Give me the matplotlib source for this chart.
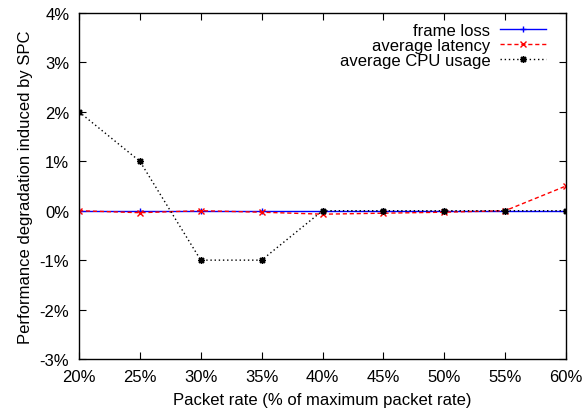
import matplotlib.pyplot as plt

plt.rcParams['font.family'] = ['Liberation Sans', 'DejaVu Sans']

rates = [20, 25, 30, 35, 40, 45, 50, 55, 60]
frame_loss = [0, 0, 0, 0, 0, 0, 0, 0, 0]
latency = [0.0, -0.04, 0.0, -0.03, -0.07, -0.05, -0.03, 0.0, 0.5]
cpu = [2, 1, -1, -1, 0, 0, 0, 0, 0]

fig = plt.figure(figsize=(5.85, 4.1), dpi=100)
ax = fig.add_axes([79 / 585, 1 - 360 / 410, 487 / 585, 346 / 410])

ax.plot(rates, frame_loss, color='#0000ff', lw=1, marker='+', ms=5, mew=1, label='frame loss')
ax.plot(rates, latency, color='#ff0000', lw=1, ls=(0, (3, 2)), marker='x', ms=4, mew=1, label='average latency')
ax.plot(rates, cpu, color='black', lw=1, ls=(0, (1, 2)), marker=(8, 2, 0), ms=5, mew=1, label='average CPU usage')

ax.set_xlim(20, 60)
ax.set_ylim(-3, 4)
ax.set_xticks(rates)
ax.set_xticklabels([f'{r}%' for r in rates])
ax.set_yticks(range(-3, 5))
ax.set_yticklabels([f'{v}%' for v in range(-3, 5)])
ax.tick_params(direction='in', top=True, right=True, labelsize=12, length=5)
ax.tick_params(axis='x', pad=7)
ax.tick_params(axis='y', pad=7)
for s in ax.spines.values():
    s.set_linewidth(1)

ax.set_xlabel('Packet rate (% of maximum packet rate)', fontsize=12, labelpad=6)
ax.set_ylabel('Performance degradation induced by SPC', fontsize=12, labelpad=5)

ax.legend(loc='upper right', bbox_to_anchor=(0.959, 0.971), frameon=False,
          markerfirst=False, fontsize=12, handlelength=2.75, handletextpad=0.6,
          labelspacing=0.0, borderaxespad=0, borderpad=0)

plt.savefig('out.png', dpi=100)
